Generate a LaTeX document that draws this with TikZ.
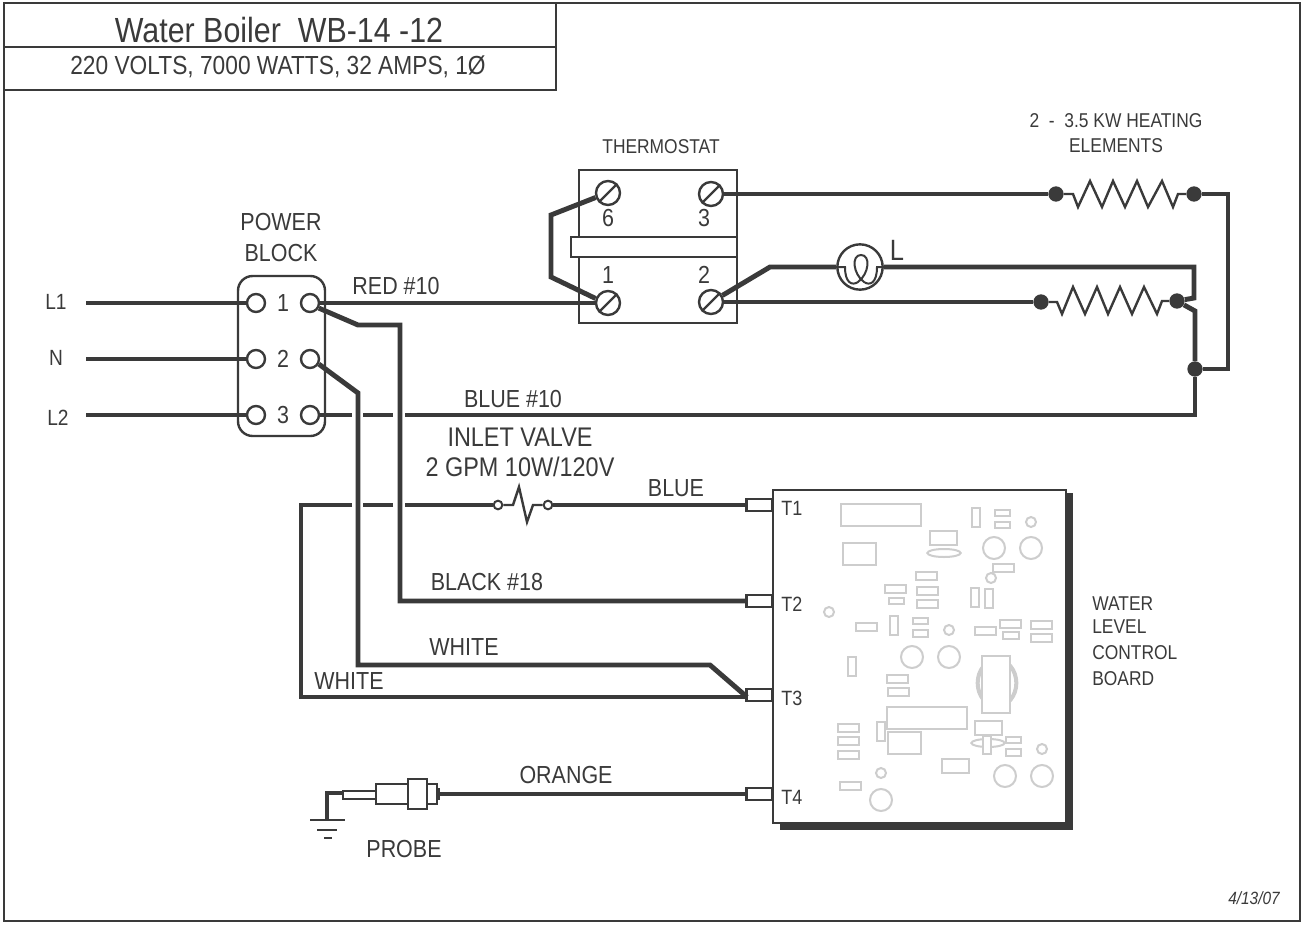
\documentclass[tikz,border=0pt]{standalone}
\usepackage{fontspec}
\setmainfont[FakeStretch=0.87]{Liberation Sans}
\definecolor{ink}{HTML}{3A3A3A}
\definecolor{pcb}{HTML}{CDCDCD}
\tikzset{
  wire/.style={draw=ink,line width=3.7pt,line join=miter},
  thinwire/.style={draw=ink,line width=1.8pt,line join=miter},
  outline/.style={draw=ink,line width=1.8pt,fill=white},
  term/.style={circle,draw=ink,line width=1.8pt,fill=white,minimum size=13.5pt,inner sep=0pt},
  screw/.style={circle,draw=ink,line width=1.8pt,fill=white,minimum size=18pt,inner sep=0pt},
  joint/.style={circle,fill=ink,minimum size=11.5pt,inner sep=0pt},
  smallterm/.style={circle,draw=ink,line width=1.5pt,fill=white,minimum size=6.5pt,inner sep=0pt},
  tab/.style={rectangle,draw=ink,line width=1.8pt,fill=white,minimum width=19pt,minimum height=9pt,inner sep=0pt},
  lbl/.style={text=ink,font=\fontsize{18.5}{18.5}\selectfont,inner sep=0pt},
  small/.style={text=ink,font=\fontsize{15}{15}\selectfont,inner sep=0pt},
  part/.style={draw=pcb,line width=1.5pt,fill=white},
}
\begin{document}
\begin{tikzpicture}[x=0.75pt,y=-0.75pt]
  \useasboundingbox (0,0) rectangle (1302,924);
  % Frame and title block
  \draw[draw=ink,line width=1.6pt] (4,3) rectangle (1300,921);
  \draw[draw=ink,line width=1.6pt] (4,47) -- (556,47);
  \draw[draw=ink,line width=1.8pt] (4,90) -- (556,90) -- (556,3);
  \node[lbl,font=\fontsize{26.2}{26.2}\selectfont] (title) at (279,30) {Water Boiler\ \ WB-14 -12};
  \node[lbl,font=\fontsize{19.6}{19.6}\selectfont] (subtitle) at (278,67) {220 VOLTS, 7000 WATTS, 32 AMPS, 1Ø};

  % Power block
  \draw[draw=ink,line width=1.8pt,rounded corners=11pt] (238,276) rectangle (325,436);
  \foreach \n/\y in {1/303,2/359,3/415}{
    \node[term] (in\n) at (256,\y) {};
    \node[term] (out\n) at (310,\y) {};
    \node[lbl] (num\n) at (283,\y) {\n};
  }
  \coordinate (feedA) at (86,303);
  \coordinate (feedB) at (86,359);
  \coordinate (feedC) at (86,415);
  \draw[wire] (feedA) -- (in1);
  \draw[wire] (feedB) -- (in2);
  \draw[wire] (feedC) -- (in3);

  % Thermostat
  \draw[outline] (579,170) rectangle (737,323);
  \draw[outline] (571,237) rectangle (737,257);
  \foreach \n/\x/\y in {6/608/193,3/711/194,1/608/303,2/711/302}{
    \node[screw] (sc\n) at (\x,\y) {};
    \draw[thinwire] (sc\n.225) -- (sc\n.45);
  }
  \node[lbl] (num6) at (608,218) {6};
  \node[lbl] (num3b) at (704,218) {3};
  \node[lbl] (num1b) at (608,275) {1};
  \node[lbl] (num2b) at (704,275) {2};

  % Jumper on the thermostat
  \draw[wire] (sc6.200) -- (551,215) -- (551,277) -- (sc1.160);

  % Heating elements
  \node[joint] (jA) at (1056,194) {};
  \node[joint] (jB) at (1194,194) {};
  \node[joint] (jC) at (1041,302) {};
  \node[joint] (jD) at (1177,301) {};
  \node[joint] (jE) at (1195,369) {};
  \draw[thinwire] (jA) -- (1073,194) -- (1078,207) -- (1090,181) -- (1102,207) -- (1113,181) -- (1125,207) -- (1137,181) -- (1148,207) -- (1162,181) -- (1173,207) -- (1178,194) -- (jB);
  \draw[thinwire] (jC) -- (1057,302) -- (1062,314) -- (1073,287) -- (1085,314) -- (1097,287) -- (1108,314) -- (1120,287) -- (1132,314) -- (1144,287) -- (1157,314) -- (1162,301) -- (jD);
  \draw[wire] (sc3) -- (jA);
  \draw[wire] (sc2) -- (jC);
  \draw[wire] (jB) -- (1228,194) -- (1228,369) -- (jE);
  \draw[wire] (jD) -- (1195,311) -- (jE);

  % Lamp
  \node[circle,draw=ink,line width=1.8pt,fill=white,minimum size=34pt,inner sep=0pt] (lamp) at (860,267) {};
  \draw[wire] (sc2.30) -- (770,267) -- (lamp.180);
  \draw[wire] (lamp.0) -- (1194,267) -- (1194,298) -- (jD);
  \draw[draw=ink,line width=1.5pt] (lamp.180) -- (845,267) .. controls (845,283) and (852,286) .. (858,282) .. controls (869,274) and (871,255) .. (861,255) .. controls (851,255) and (853,274) .. (864,282) .. controls (870,286) and (877,283) .. (877,267) -- (lamp.0);
  \node[lbl,font=\fontsize{22}{22}\selectfont] (lampL) at (897,250) {L};

  % Board
  \fill[ink] (1067,493) rectangle (1073,830);
  \fill[ink] (780,824) rectangle (1073,830);
  \draw[outline] (773,490) rectangle (1066,823);

  % Board parts
  \foreach \a/\b/\c/\d in {841/504/921/526,972/508/980/527,995/510/1010/516,995/522/1010/528,
    930/531/957/545,843/543/876/565,993/564/1014/572,916/572/937/580,885/585/906/593,
    917/587/938/595,889/598/904/604,917/600/938/608,971/588/979/607,985/589/993/608,
    856/623/877/631,890/616/898/635,913/618/928/624,913/630/928/637,975/627/996/635,
    1000/620/1021/628,1003/632/1019/639,1031/621/1052/629,1031/634/1052/642,848/657/856/676,
    887/675/908/683,888/688/909/696,887/707/967/729,975/721/1002/735,877/722/885/741,
    888/732/921/754,838/724/859/732,838/737/859/745,838/751/859/759,1006/737/1021/743,
    1006/749/1021/756,942/759/969/773,840/782/861/790}{
    \draw[part] (\a,\b) rectangle (\c,\d);
  }
  \foreach \x/\y/\r in {1031/522/5,994/548/11,1031/548/11,991/578/5,829/612/5,949/630/5,
    912/657/11,949/657/11,1042/749/5,1005/776/11,1042/776/11,881/773/5,881/800/11}{
    \draw[part] (\x,\y) circle ({\r*0.75pt});
  }
  \draw[part] (944,553) ellipse (12.5pt and 3pt);
  \draw[part] (988,743) ellipse (12.5pt and 3pt);
  \draw[part] (983,736) rectangle (991,754);
  \draw[part,line width=3pt] (997,683) ellipse (14.5pt and 17.5pt);
  \draw[part,line width=2pt] (982,656) rectangle (1010,713);

  % Board terminals
  \foreach \n/\y in {1/505,2/601,3/695,4/794}{
    \node[tab,anchor=east] (tab\n) at (773,\y) {};
    \node[small,font=\fontsize{15.5}{15.5}\selectfont,anchor=west] (t\n) at (781,{\y+3}) {T\n};
  }

  % Valve
  \node[smallterm] (valveA) at (498,505) {};
  \node[smallterm] (valveB) at (548,505) {};
  \draw[thinwire] (valveA) -- (513,505) -- (519,487) -- (527,522) -- (533,505) -- (valveB);

  % Wires to the board
  \coordinate (whiteEnd) at (747,697);
  \draw[wire] (out1) -- (sc1);
  \draw[wire] (out1.-30) -- (358,325) -- (400,325) -- (400,601) -- (tab2);
  \draw[wire] (out2.-30) -- (358,393) -- (358,665) -- (710,665) -- (whiteEnd);
  \draw[wire] (valveB) -- (tab1);
  \draw[wire] (valveA) -- (405,505);
  \draw[wire] (393,505) -- (363,505);
  \draw[wire] (352,505) -- (301,505) -- (301,697) -- (whiteEnd);
  \draw[wire] (out3) -- (352,415);
  \draw[wire] (363,415) -- (393,415);
  \draw[wire] (405,415) -- (1195,415) -- (jE);

  % Probe
  \draw[outline] (343,791) rectangle (376,799);
  \draw[outline] (376,784) rectangle (408,804);
  \draw[outline] (427,784) rectangle (437,804);
  \draw[outline] (408,779) rectangle (427,809);
  \fill[ink] (437,788) rectangle (440,800);
  \coordinate (probeTip) at (440,794);
  \draw[wire] (probeTip) -- (tab4);
  \coordinate (gnd) at (327,820);
  \draw[wire] (343,793) -- (327,793) -- (gnd);
  \draw[thinwire] (310,820) -- (345,820);
  \draw[thinwire] (317,830) -- (337,830);
  \draw[thinwire] (324,838) -- (332,838);

  % Labels
  \node[lbl,font=\fontsize{16.5}{16.5}\selectfont] (lblA) at (56,302) {L1};
  \node[lbl,font=\fontsize{16.5}{16.5}\selectfont] (lblB) at (56,358) {N};
  \node[lbl,font=\fontsize{16.5}{16.5}\selectfont] (lblC) at (58,418) {L2};
  \node[lbl] (pow) at (281,222) {POWER};
  \node[lbl] (blk) at (281,253) {BLOCK};
  \node[lbl] (red) at (396,286) {RED \#10};
  \node[lbl] (blue) at (513,399) {BLUE \#10};
  \node[lbl,font=\fontsize{20.2}{20.2}\selectfont] (inlet) at (520,437) {INLET VALVE};
  \node[lbl,font=\fontsize{20.2}{20.2}\selectfont] (gpm) at (520,467) {2 GPM 10W/120V};
  \node[lbl] (blueb) at (676,488) {BLUE};
  \node[lbl] (black) at (487,582) {BLACK \#18};
  \node[lbl] (whiteA) at (464,647) {WHITE};
  \node[lbl] (whiteB) at (349,681) {WHITE};
  \node[lbl] (orange) at (566,775) {ORANGE};
  \node[lbl] (probe) at (404,849) {PROBE};
  \node[small] (tstat) at (661,147) {THERMOSTAT};
  \node[small] (kw) at (1116,121) {2\ \ -\ \ 3.5 KW HEATING};
  \node[small] (elem) at (1116,146) {ELEMENTS};
  \node[small,anchor=west] (wa) at (1092,604) {WATER};
  \node[small,anchor=west] (wb) at (1092,627) {LEVEL};
  \node[small,anchor=west] (wc) at (1092,653) {CONTROL};
  \node[small,anchor=west] (wd) at (1092,679) {BOARD};
  \node[lbl,font=\fontsize{13.3}{13.3}\selectfont\itshape] (stamp) at (1254,898) {4/13/07};
\end{tikzpicture}
\end{document}
